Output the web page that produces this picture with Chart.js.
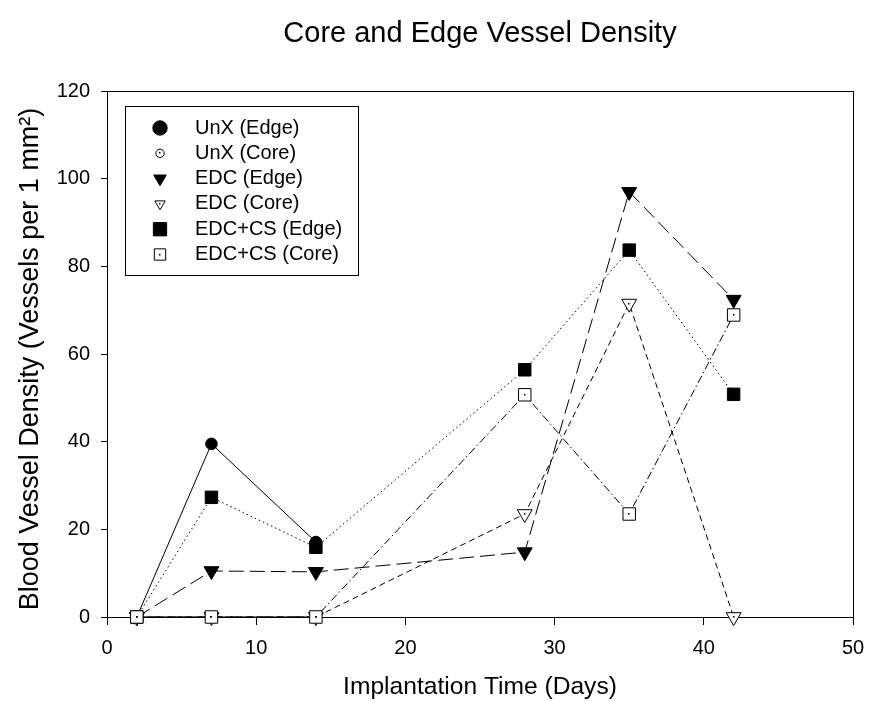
<!DOCTYPE html>
<html>
<head>
<meta charset="utf-8">
<script src="https://cdn.jsdelivr.net/npm/chart.js@4.4.1/dist/chart.umd.min.js"></script>
<style>
  html, body { margin: 0; padding: 0; background: #ffffff; }
  #wrap { width: 871px; height: 701px; position: relative; }
</style>
</head>
<body>
<div id="wrap"><canvas id="c" width="871" height="701"></canvas></div>
<script>
// Implantation time points (days)
const days = [2, 7, 14, 28, 35, 42];
const unxDays = [2, 7, 14];

// Vessel density (vessels per 1 mm²)
const unxEdge   = [0, 39.5, 17.1];
const unxCore   = [0, 0, 0];
const edcEdge   = [0, 10.5, 10.3, 14.8, 97.0, 72.4];
const edcCore   = [0, 0, 0, 23.5, 71.5, 0];
const edcCsEdge = [0, 27.3, 15.9, 56.4, 83.7, 50.8];
const edcCsCore = [0, 0, 0, 50.7, 23.5, 68.9];

const chartTitle = 'Core and Edge Vessel Density';
const yTitle = 'Blood Vessel Density (Vessels per 1 mm²)';
const seriesNames = ['UnX (Edge)', 'UnX (Core)', 'EDC (Edge)', 'EDC (Core)', 'EDC+CS (Edge)', 'EDC+CS (Core)'];
const yTicks = [0, 20, 40, 60, 80, 100, 120];
const xTicks = [0, 10, 20, 30, 40, 50];

const FONT = "'Liberation Sans', Arial, Helvetica, sans-serif";
const INK = '#000000';

function pts(xs, ys) { return xs.map((x, i) => ({ x: x, y: ys[i] })); }

// marker description per series: shape, filled, radius in plot, radius in key
const markers = [
  { shape: 'circle',   filled: true,  r: 5.8, lr: 7.2, dot: false },
  { shape: 'circle',   filled: false, r: 4.2, lr: 4.2, dot: true  },
  { shape: 'triangle', filled: true,  r: 8.6, lr: 7.2, dot: false },
  { shape: 'triangle', filled: false, r: 8.6, lr: 6.0, dot: true  },
  { shape: 'rect',     filled: true,  r: 8.8, lr: 9.4, dot: false },
  { shape: 'rect',     filled: false, r: 8.8, lr: 8.0, dot: true  }
];
const dashes = [[], [], [15, 6], [6, 4], [1.5, 3], [8, 3, 1.5, 3]];
const seriesData = [
  pts(unxDays, unxEdge),
  pts(unxDays, unxCore),
  pts(days, edcEdge),
  pts(days, edcCore),
  pts(days, edcCsEdge),
  pts(days, edcCsCore)
];
// later series sit on top of earlier ones
const drawOrder = [5, 4, 3, 2, 1, 0];

const datasets = seriesData.map((d, i) => ({
  label: seriesNames[i],
  data: d,
  order: drawOrder[i],
  borderColor: INK,
  borderWidth: 1,
  borderDash: dashes[i],
  fill: false,
  tension: 0,
  clip: false,
  pointStyle: markers[i].shape,
  rotation: markers[i].shape === 'triangle' ? 180 : 0,
  pointRadius: markers[i].r,
  pointHoverRadius: markers[i].r,
  pointBackgroundColor: markers[i].filled ? INK : '#ffffff',
  pointBorderColor: INK,
  pointBorderWidth: 1
}));

// small centre dot inside the hollow markers
const centreDots = {
  id: 'centreDots',
  afterDatasetsDraw(chart) {
    const ctx = chart.ctx;
    ctx.save();
    ctx.fillStyle = INK;
    chart.data.datasets.forEach((ds, i) => {
      if (!markers[i].dot) return;
      const meta = chart.getDatasetMeta(i);
      meta.data.forEach(el => {
        ctx.fillRect(Math.round(el.x) - 1, Math.round(el.y) - 1, 1.5, 1.5);
      });
    });
    ctx.restore();
  }
};

// frame round the plotting area, the heading centred over it and the y title
const frame = {
  id: 'frame',
  beforeDatasetsDraw(chart) {
    const a = chart.chartArea;
    const ctx = chart.ctx;
    ctx.save();
    ctx.strokeStyle = INK;
    ctx.lineWidth = 1;
    ctx.strokeRect(Math.round(a.left) + 0.5, Math.round(a.top) + 0.5,
                   Math.round(a.right - a.left), Math.round(a.bottom - a.top));
    ctx.fillStyle = INK;
    ctx.textAlign = 'center';
    ctx.textBaseline = 'middle';
    ctx.font = '29px ' + FONT;
    ctx.fillText(chartTitle, (a.left + a.right) / 2, 34);
    ctx.translate(31, (a.top + a.bottom) / 2 + 5);
    ctx.rotate(-Math.PI / 2);
    ctx.font = '27px ' + FONT;
    ctx.fillText(yTitle, 0, 0);
    ctx.restore();
  }
};

function drawMarker(ctx, m, x, y, r) {
  ctx.beginPath();
  if (m.shape === 'circle') {
    ctx.arc(x, y, r, 0, Math.PI * 2);
  } else if (m.shape === 'rect') {
    const s = r * Math.SQRT1_2;
    ctx.rect(x - s, y - s, 2 * s, 2 * s);
  } else {
    // downward pointing triangle
    const h = r * 0.866;
    ctx.moveTo(x - h, y - r / 2);
    ctx.lineTo(x + h, y - r / 2);
    ctx.lineTo(x, y + r);
    ctx.closePath();
  }
  ctx.fillStyle = m.filled ? INK : '#ffffff';
  ctx.fill();
  ctx.strokeStyle = INK;
  ctx.lineWidth = 1;
  ctx.stroke();
  if (m.dot) {
    ctx.fillStyle = INK;
    ctx.fillRect(Math.round(x) - 1, Math.round(y) - 1, 1.5, 1.5);
  }
}

// boxed key in the upper-left corner of the plot
const boxedKey = {
  id: 'boxedKey',
  afterDraw(chart) {
    const ctx = chart.ctx;
    const a = chart.chartArea;
    const bx = a.left + 18, by = a.top + 15, bw = 233, bh = 169;
    ctx.save();
    ctx.fillStyle = '#ffffff';
    ctx.fillRect(bx, by, bw, bh);
    ctx.strokeStyle = INK;
    ctx.lineWidth = 1;
    ctx.strokeRect(Math.round(bx) + 0.5, Math.round(by) + 0.5, bw, bh);
    ctx.font = '20px ' + FONT;
    ctx.textBaseline = 'middle';
    ctx.textAlign = 'left';
    seriesNames.forEach((name, i) => {
      const y = by + 22 + i * 25.3;
      drawMarker(ctx, markers[i], bx + 35, y, markers[i].lr);
      ctx.fillStyle = INK;
      ctx.fillText(name, bx + 70, y);
    });
    ctx.restore();
  }
};

new Chart(document.getElementById('c'), {
  type: 'line',
  data: { datasets: datasets },
  plugins: [frame, centreDots, boxedKey],
  options: {
    responsive: false,
    animation: false,
    devicePixelRatio: 1,
    layout: { padding: { left: 0, right: 18, top: 91, bottom: 0 } },
    plugins: {
      legend: { display: false },
      tooltip: { enabled: false },
      title: { display: false }
    },
    scales: {
      x: {
        type: 'linear',
        min: 0,
        max: 50,
        afterBuildTicks(scale) { scale.ticks = xTicks.map(v => ({ value: v })); },
        afterFit(scale) { scale.height = 84; scale.paddingLeft = 0; scale.paddingRight = 0; },
        ticks: { color: INK, padding: 11, font: { family: FONT, size: 20 } },
        grid: { display: true, drawOnChartArea: false, drawTicks: true, tickLength: 8, color: INK, lineWidth: 1 },
        border: { display: true, color: INK, width: 1 },
        title: {
          display: true,
          text: 'Implantation Time (Days)',
          color: INK,
          font: { family: FONT, size: 24.6, weight: 'normal', lineHeight: 1.1 },
          padding: { top: 0, bottom: 0 }
        }
      },
      y: {
        type: 'linear',
        min: 0,
        max: 120,
        afterBuildTicks(scale) { scale.ticks = yTicks.map(v => ({ value: v })); },
        afterFit(scale) { scale.width = 107; scale.paddingTop = 0; scale.paddingBottom = 0; },
        ticks: { color: INK, padding: 11, font: { family: FONT, size: 20 } },
        grid: { display: true, drawOnChartArea: false, drawTicks: true, tickLength: 6, color: INK, lineWidth: 1 },
        border: { display: true, color: INK, width: 1 },
        title: { display: false }
      }
    }
  }
});
</script>
</body>
</html>
